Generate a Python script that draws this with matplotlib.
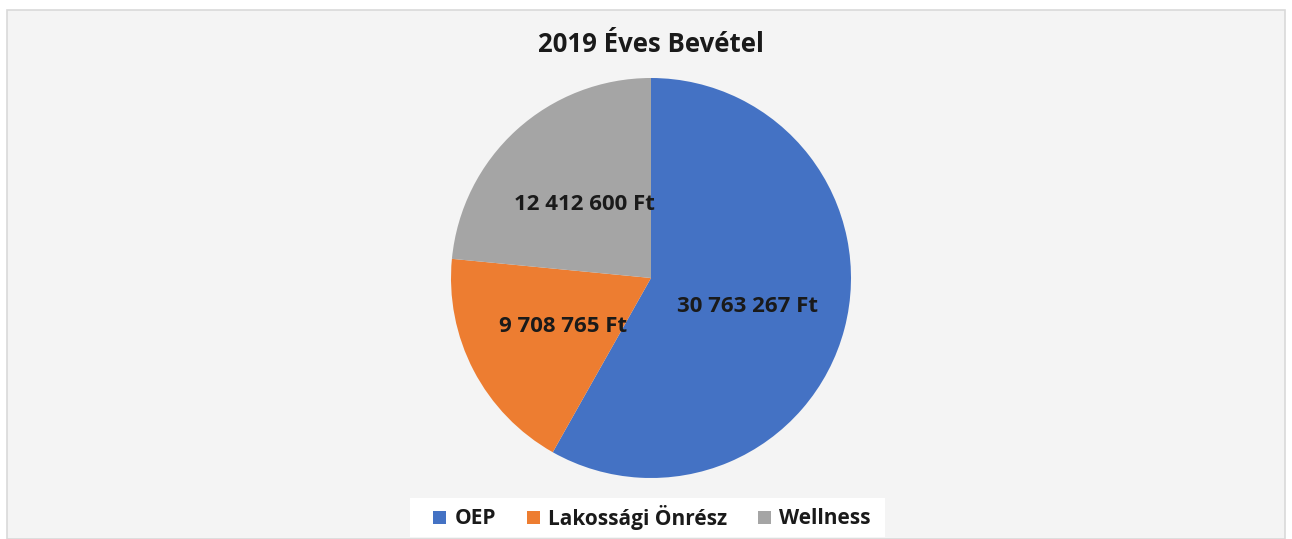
import matplotlib.pyplot as plt
from matplotlib.patches import Rectangle

# adatok
categories = ["OEP", "Lakossági Önrész", "Wellness"]
values = [30763267, 9708765, 12412600]
colors = ["#4472C4", "#ED7D31", "#A5A5A5"]
# címke helyek (pite koordinátákban)
label_pos = [(0.48, -0.14), (-0.44, -0.245), (-0.335, 0.365)]


def ft(v):
    return "{:,}".format(v).replace(",", " ") + " Ft"


plt.rcParams['font.family'] = ['Open Sans', 'DejaVu Sans']

fig = plt.figure(figsize=(12.92, 5.39), dpi=100)
fig.patch.set_facecolor("white")

# háttér keret
bg = Rectangle((7 / 1292, 0), 1278 / 1292, 529 / 539, transform=fig.transFigure,
               facecolor="#f4f4f4", edgecolor="#d9d9d9", linewidth=1.2, zorder=-10)
fig.patches.append(bg)
# fehér doboz a jelmagyarázat mögött
legbg = Rectangle((410 / 1292, 2 / 539), 475 / 1292, 39 / 539, transform=fig.transFigure,
                  facecolor="white", edgecolor="none", zorder=-5)
fig.patches.append(legbg)

ax = fig.add_axes([451 / 1292, 61 / 539, 400 / 1292, 400 / 539])
ax.set_zorder(1)
ax.pie(values, colors=colors, startangle=90, counterclock=False,
       wedgeprops={"linewidth": 0})
ax.set_xlim(-1, 1)
ax.set_ylim(-1, 1)
ax.set_aspect("equal")

for v, (x, y) in zip(values, label_pos):
    ax.text(x, y, ft(v), ha="center", va="center", fontsize=16,
            fontweight="bold", color="#1a1a1a")

fig.text(651 / 1292, 1 - 44 / 539, "2019 Éves Bevétel", ha="center", va="center",
         fontsize=18.5, fontweight="bold", color="#1a1a1a")

handles = [Rectangle((0, 0), 1, 1, facecolor=c) for c in colors]
leg = fig.legend(handles, categories, loc="center", bbox_to_anchor=(652 / 1292, 1 - 517 / 539),
                 ncol=3, frameon=False, handlelength=0.6, handleheight=0.6, handletextpad=0.4,
                 columnspacing=1.5, borderpad=0, borderaxespad=0,
                 prop={"size": 15, "weight": "bold"})
for t in leg.get_texts():
    t.set_color("#1a1a1a")

fig.savefig("out.png", dpi=100)
